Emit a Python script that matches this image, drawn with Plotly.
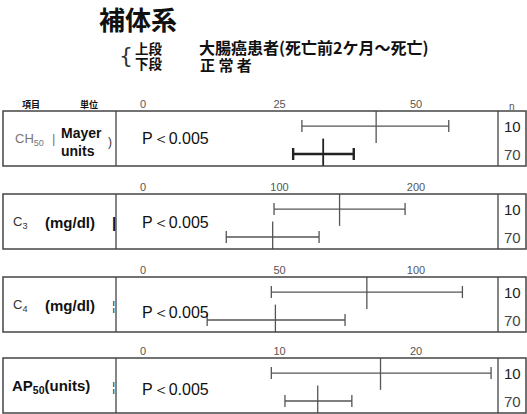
import plotly.graph_objects as go

W, H = 527, 414

# ---- data ----
items = ["CH50", "C3", "C4", "AP50"]
tick_steps = [25, 100, 50, 10]
tick_labels = [["0", "25", "50"], ["0", "100", "200"], ["0", "50", "100"], ["0", "10", "20"]]
# upper row: colorectal cancer patients (n=10)
patient_low = [29.1, 96, 47, 9.4]
patient_mean = [42.7, 144, 82, 17.4]
patient_high = [56.0, 192, 117, 25.5]
# lower row: normal controls (n=70)
normal_low = [27.5, 61, 23.5, 10.4]
normal_mean = [33.0, 95, 48.5, 12.8]
normal_high = [38.6, 129, 74, 15.3]
n_patient, n_normal = "10", "70"
p_text = ["P＜0.005", "P＜0.005", "P＜0.005", "P＜0.005"]

# ---- layout geometry (pixels) ----
BOX_TOP = [111, 194, 277, 358]
BOX_H = 55
X_LEFT, X_DIV, X_NDIV, X_RIGHT = 3, 116, 498, 526
X0_PX, STEP_PX = 143, 136.5

def px(x):
    return x / W

def py(y):
    return 1 - y / H

FONT = "Arial, Liberation Sans, sans-serif"
JP = "Noto Sans CJK JP"
GREY = "#555555"

fig = go.Figure()
layout_axes = {}
shapes = []
annotations = []

def txt(t, x, y, size, color="#111", family=FONT, xanchor="left"):
    annotations.append(dict(text=t, x=px(x), y=py(y), xref="paper", yref="paper",
                            xanchor=xanchor, yanchor="middle", showarrow=False,
                            font=dict(family=family, size=size, color=color)))

for i in range(4):
    k = i + 1
    xa = "x" if k == 1 else f"x{k}"
    ya = "y" if k == 1 else f"y{k}"
    ppu = STEP_PX / tick_steps[i]
    xr = [(X_DIV - X0_PX) / ppu, (X_NDIV - X0_PX) / ppu]
    top = BOX_TOP[i]
    bot = top + BOX_H
    layout_axes["xaxis" if k == 1 else f"xaxis{k}"] = dict(
        domain=[px(X_DIV), px(X_NDIV)], range=xr, anchor=ya, side="top",
        tickvals=[j * tick_steps[i] for j in range(3)], ticktext=tick_labels[i],
        showgrid=False, zeroline=False, showline=False, ticks="",
        tickfont=dict(family=FONT, size=11, color=GREY), fixedrange=True,
    )
    layout_axes["yaxis" if k == 1 else f"yaxis{k}"] = dict(
        domain=[py(bot), py(top)], range=[-0.43, 1.54], anchor=xa,
        visible=False, fixedrange=True,
    )
    thick_up = 1.3
    thick_lo = 2.4 if i == 0 else 1.3
    col_lo = "#222222" if i == 0 else GREY
    fig.add_trace(go.Scatter(
        x=[patient_mean[i]], y=[1], xaxis=xa, yaxis=ya, mode="markers",
        marker=dict(symbol="line-ns", size=24, line=dict(width=1.3, color=GREY)),
        error_x=dict(type="data", symmetric=False,
                     array=[patient_high[i] - patient_mean[i]],
                     arrayminus=[patient_mean[i] - patient_low[i]],
                     color=GREY, thickness=thick_up, width=6),
        showlegend=False, hoverinfo="skip"))
    fig.add_trace(go.Scatter(
        x=[normal_mean[i]], y=[0], xaxis=xa, yaxis=ya, mode="markers",
        marker=dict(symbol="line-ns", size=22, line=dict(width=1.8 if i == 0 else 1.3, color=col_lo)),
        error_x=dict(type="data", symmetric=False,
                     array=[normal_high[i] - normal_mean[i]],
                     arrayminus=[normal_mean[i] - normal_low[i]],
                     color=col_lo, thickness=thick_lo, width=6),
        showlegend=False, hoverinfo="skip"))
    shapes.append(dict(type="rect", xref="paper", yref="paper",
                       x0=px(X_LEFT), x1=px(X_RIGHT), y0=py(bot), y1=py(top),
                       line=dict(color="#444444", width=1.5)))
    for xv in (X_DIV, X_NDIV):
        shapes.append(dict(type="line", xref="paper", yref="paper",
                           x0=px(xv), x1=px(xv), y0=py(bot), y1=py(top),
                           line=dict(color="#444444", width=1.3)))
    txt(n_patient, 512, top + 15, 15, "#222", xanchor="center")
    txt(n_normal, 512, top + 43, 15, "#444", xanchor="center")

p_y = [139, 223, 312, 389]
for i in range(4):
    txt(p_text[i], 140, p_y[i], 16, "#111")

# left labels
txt("CH<sub>50</sub>", 13, 140, 13, "#777")
txt("|", 50, 139, 13, "#777")
txt("<b>Mayer</b>", 59, 133, 14)
txt("<b>units</b>", 59, 151, 14)
txt(")", 106, 142, 12, "#333")
txt("C<sub>3</sub>", 11, 222, 13, "#333")
txt("<b>(mg/dl)</b>", 43, 222, 15)
txt("<b>|</b>", 110, 222, 15)
txt("C<sub>4</sub>", 11, 305, 13, "#333")
txt("<b>(mg/dl)</b>", 43, 305, 15)
txt("¦", 110, 305, 13, "#333")
txt("<b>AP<sub>50</sub>(units)</b>", 10, 386, 15)
txt("¦", 110, 386, 13, "#333")

# header
txt("<b>項目</b>", 31, 104, 9, family=JP, xanchor="center")
txt("<b>単位</b>", 89, 104, 9, family=JP, xanchor="center")
txt("n", 512, 106, 10, GREY, xanchor="center")

# title & legend
txt("<b>補体系</b>", 138, 19, 26, family=JP, xanchor="center")
txt("{", 117, 56, 22, "#333", family="DejaVu Sans")
txt("<b>上段</b>", 133, 48, 13.5, family=JP)
txt("<b>下段</b>", 133, 63, 13.5, family=JP)
txt("<b>大腸癌患者(死亡前2ケ月～死亡)</b>", 197, 47, 16, family=JP)
txt("<b>正 常 者</b>", 198, 64, 15, family=JP)

fig.update_layout(
    width=W, height=H, margin=dict(l=0, r=0, t=0, b=0),
    paper_bgcolor="white", plot_bgcolor="rgba(0,0,0,0)",
    shapes=shapes, annotations=annotations, showlegend=False,
    **layout_axes,
)
fig.write_html("out.html", config={"displayModeBar": False},
               post_script="document.body.style.margin='0';")
